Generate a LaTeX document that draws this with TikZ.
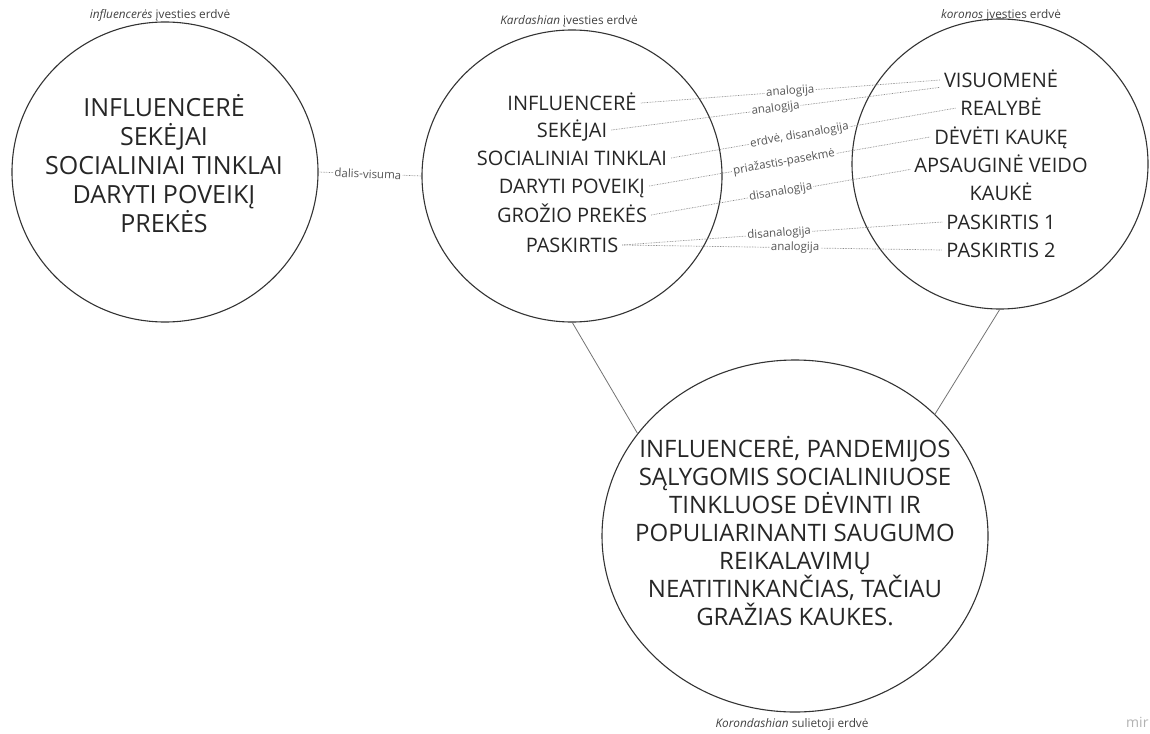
\documentclass[tikz,border=0pt]{standalone}
\usepackage{fontspec}
\setmainfont{Open Sans}
\usetikzlibrary{shapes.geometric}
\definecolor{ink}{HTML}{333333}
\definecolor{linkgray}{HTML}{8A8A8A}
\definecolor{lblgray}{HTML}{555555}
% keep stacked lines at a fixed baseline distance despite accents
\newcommand\evenlines{\lineskiplimit=-20pt\relax}
\newcommand\bigfont{\fontsize{24}{28}\selectfont\evenlines}
\newcommand\firstfont{\fontsize{25}{29}\selectfont\evenlines}
\newcommand\itemfont{\fontsize{20}{28.3}\selectfont\evenlines}
\begin{document}
\begin{tikzpicture}[x=1pt,y=-1pt,
  space/.style={draw=ink, line width=1.1pt, ellipse, inner sep=0pt, outer sep=0pt},
  caption/.style={font=\fontsize{11.8}{13}\selectfont, text=black!75, inner sep=1pt},
  firstitem/.style={font=\firstfont, text=black!85, inner xsep=3pt, inner ysep=0pt, text height=17.8pt, text depth=0pt},
  bigitem/.style={font=\bigfont, text=black!85, inner xsep=3pt, inner ysep=0pt, text height=17pt, text depth=0pt},
  item/.style={font=\itemfont, text=black!85, inner xsep=4pt, inner ysep=0pt, text height=14.3pt, text depth=0pt},
  link/.style={draw=linkgray, line width=0.7pt, dash pattern=on 0.7pt off 0.9pt},
  lbl/.style={font=\fontsize{11.5}{12}\selectfont, text=lblgray, fill=white, inner sep=1.2pt, sloped},
  joint/.style={draw=black!55, line width=0.8pt}
]
\useasboundingbox (0,0) rectangle (1150,733);

% the four spaces
\node[space, minimum width=306pt, minimum height=300pt] (c1) at (165,172) {};
\node[space, minimum width=300pt, minimum height=292pt] (c2) at (572,176) {};
\node[space, minimum width=296pt, minimum height=290pt] (c3) at (1000,164) {};
\node[space, minimum width=386pt, minimum height=352pt] (c4) at (795,536) {};

% captions
\node[caption] (t1) at (160,15) {\textit{influencerės} įvesties erdvė};
\node[caption] (t2) at (569,21) {\textit{Kardashian} įvesties erdvė};
\node[caption] (t3) at (1001,15) {\textit{koronos} įvesties erdvė};
\node[caption] (t4) at (792,724) {\textit{Korondashian} sulietoji erdvė};
\node[font=\fontsize{14}{14}\selectfont, text=black!30, anchor=west, inner sep=0pt] (wm) at (1126,722) {mir};

% influencer space
\node[firstitem] (a1) at (164,108) {INFLUENCERĖ};
\node[firstitem] (a2) at (164,137) {SEKĖJAI};
\node[firstitem] (a3) at (164,166) {SOCIALINIAI TINKLAI};
\node[firstitem] (a4) at (164,195) {DARYTI POVEIKĮ};
\node[firstitem] (a5) at (164,224) {PREKĖS};

% Kardashian space
\node[item] (k1) at (572,103) {INFLUENCERĖ};
\node[item] (k2) at (572,130) {SEKĖJAI};
\node[item] (k3) at (572,158) {SOCIALINIAI TINKLAI};
\node[item] (k4) at (572,186) {DARYTI POVEIKĮ};
\node[item] (k5) at (572,215) {GROŽIO PREKĖS};
\node[item] (k6) at (572,245) {PASKIRTIS};

% corona space
\node[item] (r1) at (1001,80) {VISUOMENĖ};
\node[item] (r2) at (1001,108) {REALYBĖ};
\node[item] (r3) at (1001,137) {DĖVĖTI KAUKĘ};
\node[item, text height=42.6pt, align=center] (r4) at (1001,179) {APSAUGINĖ VEIDO\\KAUKĖ};
\node[item] (r5) at (1001,222) {PASKIRTIS 1};
\node[item] (r6) at (1001,250) {PASKIRTIS 2};

% blended space
\node[bigitem, align=center, text height=185pt] (b) at (795,533) {%
  INFLUENCERĖ, PANDEMIJOS\\SĄLYGOMIS SOCIALINIUOSE\\TINKLUOSE DĖVINTI IR\\%
  POPULIARINANTI SAUGUMO\\REIKALAVIMŲ\\NEATITINKANČIAS, TAČIAU\\GRAŽIAS KAUKES.};

% relations between input spaces
\draw[link] (c1.east) -- node[lbl, pos=0.48] {dalis-visuma} (c2.west);
\draw[link] (k1.east) -- node[lbl, pos=0.5] {analogija} (r1.west);
\draw[link] (k2.east) -- node[lbl, pos=0.5] {analogija} (r1.south west);
\draw[link] (k3.east) -- node[lbl, pos=0.45] {erdvė, disanalogija} (r2.west);
\draw[link] (k4.east) -- node[lbl, pos=0.48] {priažastis-pasekmė} (r3.west);
\draw[link] (k5.east) -- node[lbl, pos=0.5] {disanalogija} (r4.174);
\draw[link] (k6.east) -- node[lbl, pos=0.49] {disanalogija} (r5.west);
\draw[link] (k6.east) -- node[lbl, pos=0.54] {analogija} (r6.west);

% projections into the blend
\draw[joint] (c2.south) -- (c4.147);
\draw[joint] (c3.south) -- (c4.41);
\end{tikzpicture}
\end{document}
